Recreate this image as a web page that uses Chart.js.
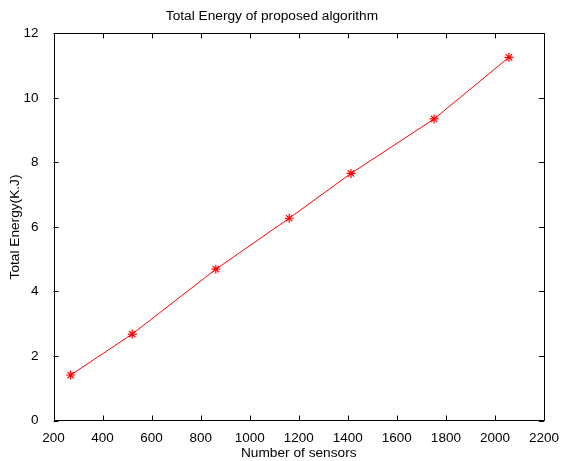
<!DOCTYPE html>
<html>
<head>
<meta charset="utf-8">
<script src="https://cdn.jsdelivr.net/npm/chart.js@4/dist/chart.umd.min.js"></script>
<style>
html,body{margin:0;padding:0;background:#fff;}
#wrap{width:561px;height:461px;}
</style>
</head>
<body>
<div id="wrap"><canvas id="c" width="561" height="461"></canvas></div>
<script>
const sensors = [270, 521, 862, 1161, 1413, 1752, 2057];
const energy = [1.41, 2.68, 4.69, 6.27, 7.66, 9.35, 11.26];
const xTicks = [200, 400, 600, 800, 1000, 1200, 1400, 1600, 1800, 2000, 2200];
const yTicks = [0, 2, 4, 6, 8, 10, 12];

const FONT = 'Liberation Sans, Arial, Helvetica, sans-serif';

const boxPlugin = {
  id: 'matlabBox',
  afterDatasetsDraw(chart) {
    const {ctx, chartArea: a, scales} = chart;
    ctx.save();
    ctx.strokeStyle = '#000';
    ctx.lineWidth = 1;
    const tl = 5;
    ctx.beginPath();
    xTicks.forEach(v => {
      const px = Math.round(scales.x.getPixelForValue(v)) + 0.5;
      ctx.moveTo(px, a.bottom); ctx.lineTo(px, a.bottom - tl);
      ctx.moveTo(px, a.top); ctx.lineTo(px, a.top + tl);
    });
    yTicks.forEach(v => {
      const py = Math.round(scales.y.getPixelForValue(v)) + 0.5;
      ctx.moveTo(a.left, py); ctx.lineTo(a.left + tl, py);
      ctx.moveTo(a.right, py); ctx.lineTo(a.right - tl, py);
    });
    ctx.stroke();
    ctx.strokeRect(Math.round(a.left) + 0.5, Math.round(a.top) + 0.5,
                   Math.round(a.right - a.left), Math.round(a.bottom - a.top));
    ctx.restore();
  }
};

new Chart(document.getElementById('c'), {
  type: 'line',
  data: {
    datasets: [{
      data: sensors.map((s, i) => ({x: s, y: energy[i]})),
      borderColor: '#ff0000',
      backgroundColor: '#ff0000',
      borderWidth: 1,
      pointStyle: 'star',
      pointRadius: 4.5,
      pointBorderColor: '#ff0000',
      pointBorderWidth: 1.2,
      tension: 0,
      fill: false,
      clip: false
    }]
  },
  options: {
    responsive: false,
    animation: false,
    devicePixelRatio: 1,
    layout: {padding: {left: 0, right: 17, top: 0, bottom: 0}},
    plugins: {
      legend: {display: false},
      tooltip: {enabled: false},
      title: {
        display: true,
        text: 'Total Energy of proposed algorithm',
        color: '#000',
        font: {family: FONT, size: 13.7, weight: 'normal', lineHeight: 1.2},
        padding: {top: 8, bottom: 9}
      }
    },
    scales: {
      x: {
        type: 'linear',
        min: 200, max: 2200,
        afterBuildTicks: s => { s.ticks = xTicks.map(v => ({value: v})); },
        afterFit: s => { s.height = 40.5; },
        grid: {display: false},
        border: {display: false},
        ticks: {color: '#000', font: {family: FONT, size: 13.5}, padding: 2, maxRotation: 0, autoSkip: false,
                callback: v => String(v)},
        title: {display: true, text: 'Number of sensors', color: '#000',
                font: {family: FONT, size: 13.7, lineHeight: 1.1}, padding: {top: 0, bottom: 0}}
      },
      y: {
        type: 'linear',
        min: 0, max: 12,
        afterBuildTicks: s => { s.ticks = yTicks.map(v => ({value: v})); },
        afterFit: s => { s.width = 53.5; },
        grid: {display: false},
        border: {display: false},
        ticks: {color: '#000', font: {family: FONT, size: 13.5}, padding: 7, autoSkip: false,
                callback: v => String(v)},
        title: {display: true, text: 'Total Energy(K.J)', color: '#000',
                font: {family: FONT, size: 13.7}, padding: {top: 7, bottom: 0}}
      }
    }
  },
  plugins: [boxPlugin]
});
</script>
</body>
</html>
